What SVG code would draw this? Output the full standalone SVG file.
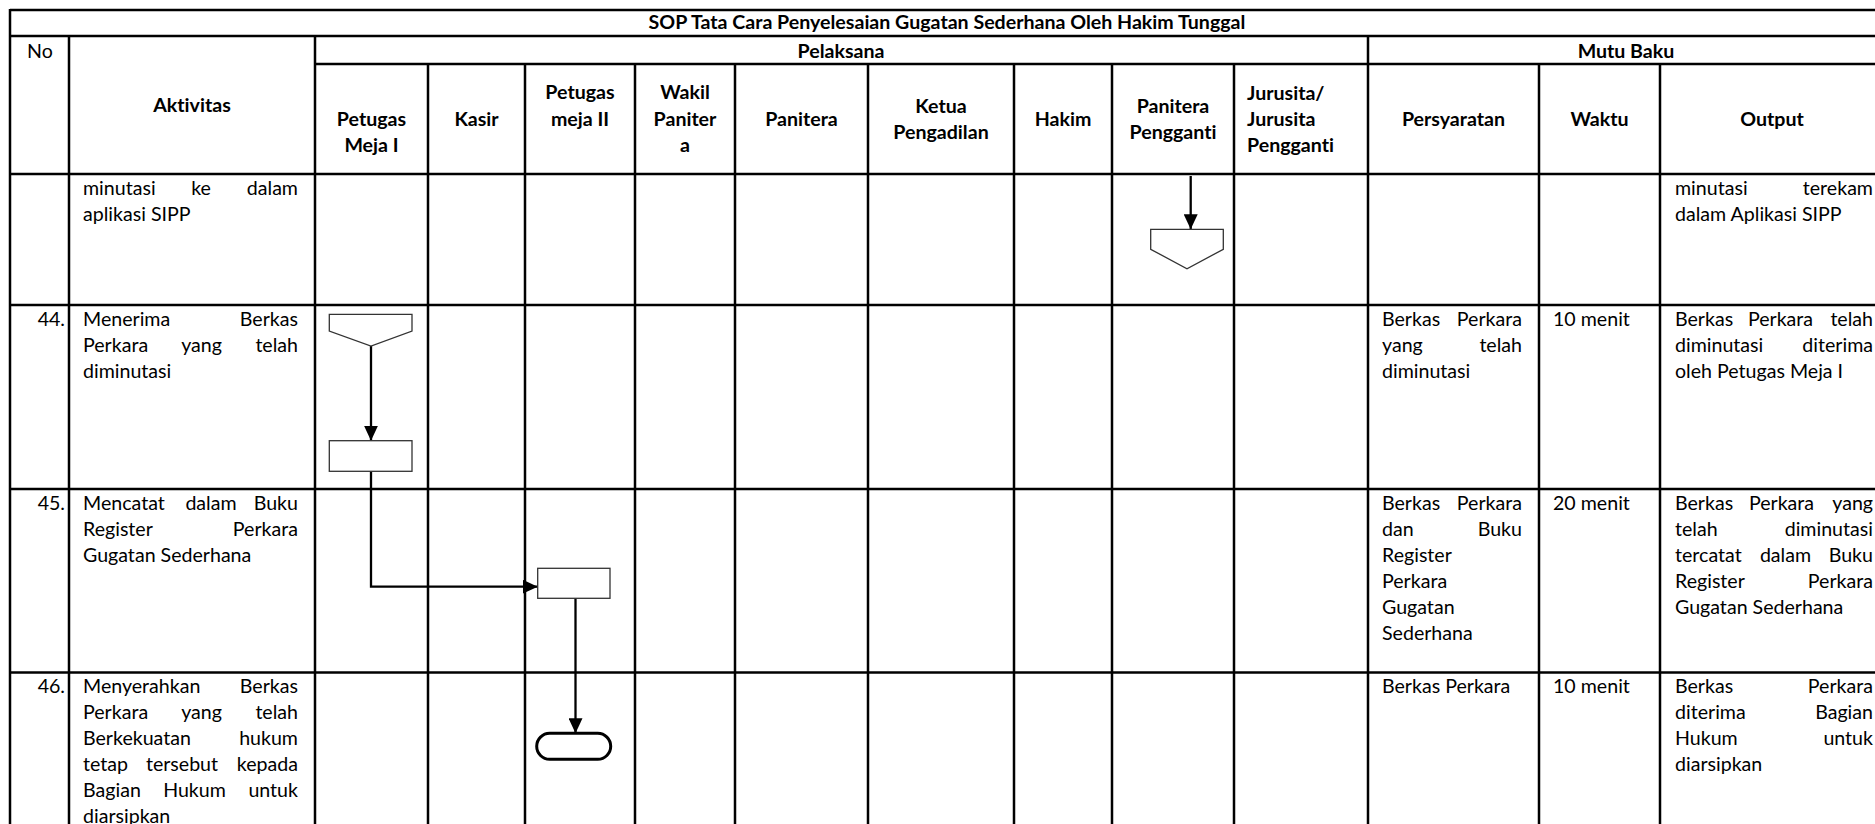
<svg xmlns="http://www.w3.org/2000/svg" width="1875" height="824" viewBox="0 0 1875 824">
<defs>
<style>
.grid line{stroke:#000;stroke-width:2.5}
text{font-family:Lato,"Liberation Sans",sans-serif;font-size:19.6px;fill:#000;font-variant-ligatures:none}
.b{font-weight:bold}
.c{text-anchor:middle}
.e{text-anchor:end}
.shape{fill:#fff;stroke:#333;stroke-width:1.3}
.term{fill:#fff;stroke:#000;stroke-width:3}
.conn{fill:none;stroke:#000;stroke-width:2.3}
</style>
<marker id="ah" markerWidth="16" markerHeight="14" refX="15" refY="7" orient="auto" markerUnits="userSpaceOnUse"><path d="M0,0 L15,7 L0,14 z" fill="#000"/></marker>
</defs>
<rect width="1875" height="824" fill="#fff"/>
<g id="grid" class="grid">
<line x1="10" y1="10" x2="1884" y2="10"/>
<line x1="10" y1="36" x2="1884" y2="36"/>
<line x1="315" y1="64" x2="1884" y2="64"/>
<line x1="10" y1="174" x2="1884" y2="174"/>
<line x1="10" y1="305" x2="1884" y2="305"/>
<line x1="10" y1="489" x2="1884" y2="489"/>
<line x1="10" y1="672.5" x2="1884" y2="672.5"/>
<line x1="10" y1="9" x2="10" y2="824"/>
<line x1="69" y1="36" x2="69" y2="824"/>
<line x1="315" y1="36" x2="315" y2="824"/>
<line x1="1368" y1="36" x2="1368" y2="824"/>
<line x1="428" y1="64" x2="428" y2="824"/>
<line x1="525" y1="64" x2="525" y2="824"/>
<line x1="635" y1="64" x2="635" y2="824"/>
<line x1="735" y1="64" x2="735" y2="824"/>
<line x1="868" y1="64" x2="868" y2="824"/>
<line x1="1014" y1="64" x2="1014" y2="824"/>
<line x1="1112" y1="64" x2="1112" y2="824"/>
<line x1="1234" y1="64" x2="1234" y2="824"/>
<line x1="1539" y1="64" x2="1539" y2="824"/>
<line x1="1660" y1="64" x2="1660" y2="824"/>
</g>
<g id="header">
<text class="b c" x="947" y="29">SOP Tata Cara Penyelesaian Gugatan Sederhana Oleh Hakim Tunggal</text>
<text class="c" x="40" y="58">No</text>
<text class="b c" x="841" y="58">Pelaksana</text>
<text class="b c" x="1626" y="58">Mutu Baku</text>
<text class="b c" x="192" y="112">Aktivitas</text>
<text class="b c" x="371.5" y="126">Petugas</text>
<text class="b c" x="371.5" y="152">Meja I</text>
<text class="b c" x="476.5" y="126">Kasir</text>
<text class="b c" x="580" y="99">Petugas</text>
<text class="b c" x="580" y="126">meja II</text>
<text class="b c" x="685" y="99">Wakil</text>
<text class="b c" x="685" y="126">Paniter</text>
<text class="b c" x="685" y="152">a</text>
<text class="b c" x="801.5" y="126">Panitera</text>
<text class="b c" x="941" y="113">Ketua</text>
<text class="b c" x="941" y="139">Pengadilan</text>
<text class="b c" x="1063" y="126">Hakim</text>
<text class="b c" x="1173" y="113">Panitera</text>
<text class="b c" x="1173" y="139">Pengganti</text>
<text class="b" x="1247" y="100">Jurusita/</text>
<text class="b" x="1247" y="126">Jurusita</text>
<text class="b" x="1247" y="152">Pengganti</text>
<text class="b c" x="1453.5" y="126">Persyaratan</text>
<text class="b c" x="1599.5" y="126">Waktu</text>
<text class="b c" x="1772" y="126">Output</text>
</g>
<g id="row43">
<text x="83" y="195">minutasi</text><text class="c" x="201" y="195">ke</text><text class="e" x="298" y="195">dalam</text>
<text x="83" y="221">aplikasi SIPP</text>
<text x="1675" y="195">minutasi</text><text class="e" x="1873" y="195">terekam</text>
<text x="1675" y="221">dalam Aplikasi SIPP</text>
</g>
<g id="row44">
<text class="e" x="65" y="326">44.</text>
<text x="83" y="326">Menerima</text><text class="e" x="298" y="326">Berkas</text>
<text x="83" y="352">Perkara</text><text class="c" x="201.6" y="352">yang</text><text class="e" x="298" y="352">telah</text>
<text x="83" y="378">diminutasi</text>
<text x="1382" y="326">Berkas</text><text class="e" x="1522" y="326">Perkara</text>
<text x="1382" y="352">yang</text><text class="e" x="1522" y="352">telah</text>
<text x="1382" y="378">diminutasi</text>
<text x="1553" y="326">10 menit</text>
<text x="1675" y="326">Berkas</text><text class="c" x="1780.5" y="326">Perkara</text><text class="e" x="1873" y="326">telah</text>
<text x="1675" y="352">diminutasi</text><text class="e" x="1873" y="352">diterima</text>
<text x="1675" y="378">oleh Petugas Meja I</text>
</g>
<g id="row45">
<text class="e" x="65" y="510">45.</text>
<text x="83" y="510">Mencatat</text><text class="c" x="211" y="510">dalam</text><text class="e" x="298" y="510">Buku</text>
<text x="83" y="536">Register</text><text class="e" x="298" y="536">Perkara</text>
<text x="83" y="562">Gugatan Sederhana</text>
<text x="1382" y="510">Berkas</text><text class="e" x="1522" y="510">Perkara</text>
<text x="1382" y="536">dan</text><text class="e" x="1522" y="536">Buku</text>
<text x="1382" y="562">Register</text>
<text x="1382" y="588">Perkara</text>
<text x="1382" y="614">Gugatan</text>
<text x="1382" y="640">Sederhana</text>
<text x="1553" y="510">20 menit</text>
<text x="1675" y="510">Berkas</text><text class="c" x="1781.5" y="510">Perkara</text><text class="e" x="1873" y="510">yang</text>
<text x="1675" y="536">telah</text><text class="e" x="1873" y="536">diminutasi</text>
<text x="1675" y="562">tercatat</text><text class="c" x="1785.5" y="562">dalam</text><text class="e" x="1873" y="562">Buku</text>
<text x="1675" y="588">Register</text><text class="e" x="1873" y="588">Perkara</text>
<text x="1675" y="614">Gugatan Sederhana</text>
</g>
<g id="row46">
<text class="e" x="65" y="693">46.</text>
<text x="83" y="693">Menyerahkan</text><text class="e" x="298" y="693">Berkas</text>
<text x="83" y="719">Perkara</text><text class="c" x="201.6" y="719">yang</text><text class="e" x="298" y="719">telah</text>
<text x="83" y="745">Berkekuatan</text><text class="e" x="298" y="745">hukum</text>
<text x="83" y="771">tetap</text><text class="c" x="182" y="771">tersebut</text><text class="e" x="298" y="771">kepada</text>
<text x="83" y="797">Bagian</text><text class="c" x="194.5" y="797">Hukum</text><text class="e" x="298" y="797">untuk</text>
<text x="83" y="823">diarsipkan</text>
<text x="1382" y="693">Berkas Perkara</text>
<text x="1553" y="693">10 menit</text>
<text x="1675" y="693">Berkas</text><text class="e" x="1873" y="693">Perkara</text>
<text x="1675" y="719">diterima</text><text class="e" x="1873" y="719">Bagian</text>
<text x="1675" y="745">Hukum</text><text class="e" x="1873" y="745">untuk</text>
<text x="1675" y="771">diarsipkan</text>
</g>
<g id="connectors">
<line class="conn" x1="1190.7" y1="176" x2="1190.7" y2="229.3" marker-end="url(#ah)"/>
<line class="conn" x1="371" y1="346" x2="371" y2="440.7" marker-end="url(#ah)"/>
<path class="conn" d="M371,471.3 V586.7 H537.7" marker-end="url(#ah)"/>
<line class="conn" x1="575.5" y1="598.3" x2="575.5" y2="733.3" marker-end="url(#ah)"/>
</g>
<g id="node-offpage-pp"><path class="shape" d="M1150.7,229.3 H1223.3 V249.3 L1187,268.7 L1150.7,249.3 Z"/></g>
<g id="node-offpage-m1"><path class="shape" d="M329.3,314.3 H412 V331 L371,346 L329.3,331 Z"/></g>
<g id="node-rect-m1"><rect class="shape" x="329.3" y="440.7" width="82.7" height="30.6"/></g>
<g id="node-rect-m2"><rect class="shape" x="537.7" y="568.3" width="72.3" height="30"/></g>
<g id="node-term"><rect class="term" x="536.7" y="733.3" width="74" height="26" rx="13"/></g>
</svg>
